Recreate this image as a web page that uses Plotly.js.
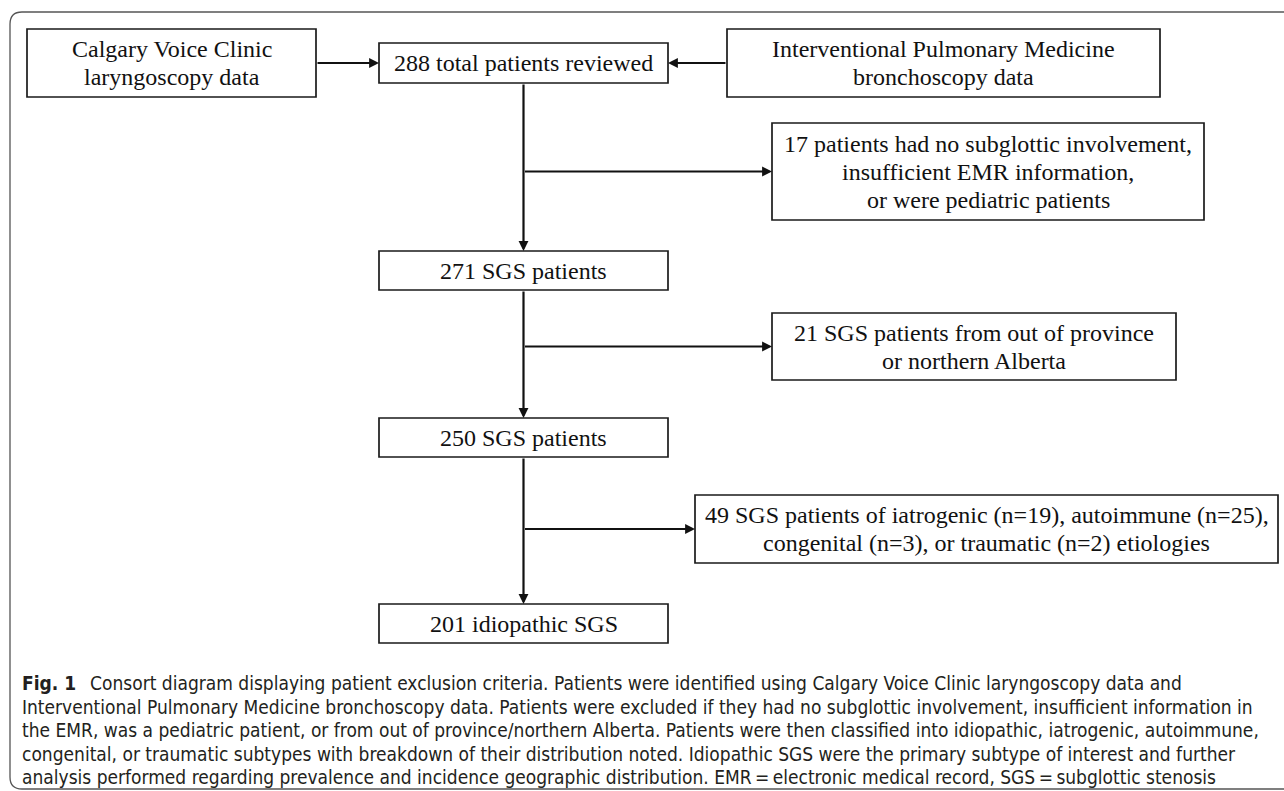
<!DOCTYPE html>
<html><head><meta charset="utf-8">
<script src="https://cdn.plot.ly/plotly-3.0.1.min.js"></script>
<style>html,body{margin:0;padding:0;background:#fff;}#chart{width:1284px;height:791px;}</style>
</head><body><div id="chart"></div>
<script>
// ---------- data ----------
const stageCounts = [288, 271, 250, 201];
const stageLabels = ["total patients reviewed", "SGS patients", "SGS patients", "idiopathic SGS"];
const sourceLines = [["Calgary Voice Clinic", "laryngoscopy data"],
                     ["Interventional Pulmonary Medicine", "bronchoscopy data"]];
const exclusionCounts = [17, 21, 49];
const etiologyNames = ["iatrogenic", "autoimmune", "congenital", "traumatic"];
const etiologyCounts = [19, 25, 3, 2];
const exclusionLines = [
  [exclusionCounts[0] + " patients had no subglottic involvement,", "insufficient EMR information,", "or were pediatric patients"],
  [exclusionCounts[1] + " SGS patients from out of province", "or northern Alberta"],
  [`${exclusionCounts[2]} SGS patients of ${etiologyNames[0]} (n=${etiologyCounts[0]}), ${etiologyNames[1]} (n=${etiologyCounts[1]}),`,
   `${etiologyNames[2]} (n=${etiologyCounts[2]}), or ${etiologyNames[3]} (n=${etiologyCounts[3]}) etiologies`]
];
const captionLabel = "Fig. 1";
const captionLines = [
  "Consort diagram displaying patient exclusion criteria. Patients were identified using Calgary Voice Clinic laryngoscopy data and",
  "Interventional Pulmonary Medicine bronchoscopy data. Patients were excluded if they had no subglottic involvement, insufficient information in",
  "the EMR, was a pediatric patient, or from out of province/northern Alberta. Patients were then classified into idiopathic, iatrogenic, autoimmune,",
  "congenital, or traumatic subtypes with breakdown of their distribution noted. Idiopathic SGS were the primary subtype of interest and further",
  "analysis performed regarding prevalence and incidence geographic distribution. EMR\u2009=\u2009electronic medical record, SGS\u2009=\u2009subglottic stenosis"
];

// ---------- geometry (layout) ----------
const mainX = [379, 668];
const stageY = [[43, 83], [251, 290], [418, 457], [604, 643]];
const sourceBoxes = [[27, 316, 29, 97], [727, 1160, 29, 97]];
const exclBoxes = [[772, 1204, 123, 220], [772, 1176, 313, 380], [695, 1278, 495, 563]];
const lineGap = 28;
const capX = 20, capY0 = 683, capGap = 23.5;

const serif = "Liberation Serif, Times New Roman, serif";
const sans = "DejaVu Sans Condensed, DejaVu Sans, sans-serif";
const ink = "#111111";

const shapes = [];
const annotations = [];

function box(x0, x1, y0, y1) {
  shapes.push({type: "rect", xref: "x", yref: "y", x0: x0, x1: x1, y0: y0, y1: y1,
               line: {color: "#1a1a1a", width: 1.7}, fillcolor: "rgba(0,0,0,0)"});
}
function boxText(lines, x0, x1, y0, y1) {
  const cx = (x0 + x1) / 2, cy = (y0 + y1) / 2;
  lines.forEach((t, i) => {
    annotations.push({x: cx, y: cy + (i - (lines.length - 1) / 2) * lineGap, xref: "x", yref: "y",
      text: t, showarrow: false, xanchor: "center", yanchor: "middle",
      font: {family: serif, size: 24, color: ink}});
  });
}
function arrow(x0, y0, x1, y1) {
  annotations.push({x: x1, y: y1, ax: x0, ay: y0, xref: "x", yref: "y", axref: "x", ayref: "y",
    text: "", showarrow: true, arrowhead: 2, arrowsize: 0.9, arrowwidth: 2.2, arrowcolor: ink, standoff: 0});
}

// outer frame
shapes.push({type: "path", xref: "x", yref: "y",
  path: "M 1290,12 L 22,12 Q 10,12 10,24 L 10,777 Q 10,789 22,789 L 1290,789",
  line: {color: "#555555", width: 1.3}});

// main column
const midX = (mainX[0] + mainX[1]) / 2;
stageCounts.forEach((c, i) => {
  box(mainX[0], mainX[1], stageY[i][0], stageY[i][1]);
  boxText([c + " " + stageLabels[i]], mainX[0], mainX[1], stageY[i][0], stageY[i][1]);
  if (i > 0) arrow(midX, stageY[i - 1][1], midX, stageY[i][0]);
});

// sources
sourceBoxes.forEach((b, i) => {
  box(b[0], b[1], b[2], b[3]);
  boxText(sourceLines[i], b[0], b[1], b[2], b[3]);
});
const srcY = (stageY[0][0] + stageY[0][1]) / 2;
arrow(sourceBoxes[0][1], srcY, mainX[0], srcY);
arrow(sourceBoxes[1][0], srcY, mainX[1], srcY);

// exclusions
exclBoxes.forEach((b, i) => {
  box(b[0], b[1], b[2], b[3]);
  boxText(exclusionLines[i], b[0], b[1], b[2], b[3]);
  const by = (b[2] + b[3]) / 2;
  arrow(midX, by, b[0], by);
});

// caption
captionLines.forEach((t, i) => {
  annotations.push({x: capX, y: capY0 + i * capGap, xref: "x", yref: "y",
    text: (i === 0 ? "<b>" + captionLabel + "</b>\u2002 " : "") + t,
    showarrow: false, xanchor: "left", yanchor: "middle", align: "left",
    font: {family: sans, size: 19, color: "#231f20"}});
});

const layout = {
  width: 1284, height: 791,
  margin: {l: 0, r: 0, t: 0, b: 0, pad: 0},
  paper_bgcolor: "#ffffff", plot_bgcolor: "#ffffff",
  xaxis: {range: [0, 1284], visible: false, fixedrange: true},
  yaxis: {range: [791, 0], visible: false, fixedrange: true},
  showlegend: false,
  shapes: shapes,
  annotations: annotations
};
Plotly.newPlot("chart", [{x: [], y: [], type: "scatter", mode: "markers", hoverinfo: "skip"}], layout,
  {staticPlot: true, displayModeBar: false});
</script>
</body></html>
